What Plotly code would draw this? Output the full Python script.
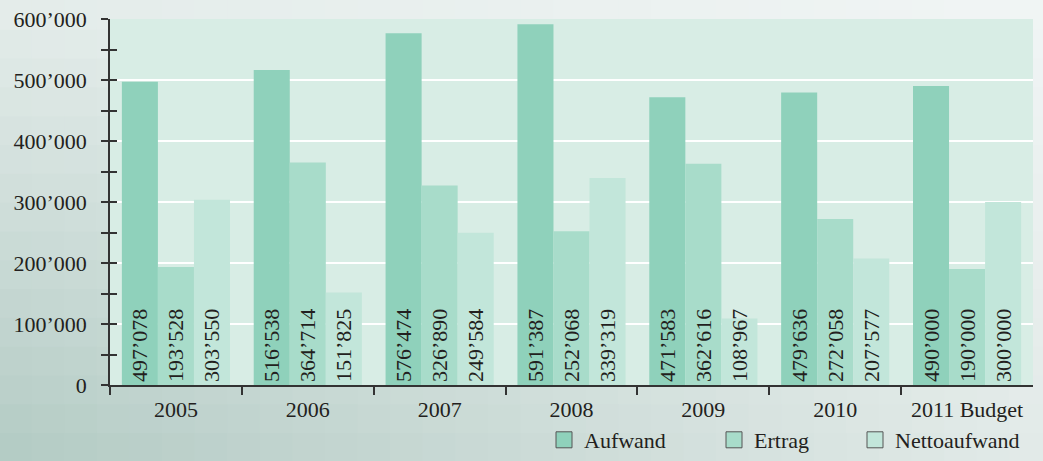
import plotly.graph_objects as go

categories = ["2005", "2006", "2007", "2008", "2009", "2010", "2011 Budget"]
aufwand = [497078, 516538, 576474, 591387, 471583, 479636, 490000]
ertrag = [193528, 364714, 326890, 252068, 362616, 272058, 190000]
netto = [303550, 151825, 249584, 339319, 108967, 207577, 300000]
series_names = ["Aufwand", "Ertrag", "Nettoaufwand"]
series_colors = ["#8fd1bb", "#a8dcca", "#c2e6da"]

W, H = 1043, 461
FONT = "Liberation Serif"
TXT = "#231f20"

fig = go.Figure()

for name, vals, col in zip(series_names, [aufwand, ertrag, netto], series_colors):
    fig.add_trace(go.Bar(
        x=categories, y=vals, name=name, marker=dict(color=col, line=dict(width=0)),
        texttemplate="%{y:,.0f}", textposition="inside", insidetextanchor="start",
        textangle=-90, textfont=dict(family=FONT, size=22, color=TXT),
        showlegend=False, hoverinfo="skip"))

# legend entries (separate legends for exact positioning)
leg_keys = ["legend", "legend2", "legend3"]
leg_x = [544, 714, 855]
for name, col, lk in zip(series_names, series_colors, leg_keys):
    fig.add_trace(go.Scatter(
        x=[None], y=[None], mode="markers", name=name, legend=lk,
        marker=dict(symbol="square", size=18, color=col, line=dict(color="#555555", width=1))))

# overlay axis for inward half of y ticks
fig.add_trace(go.Scatter(x=[None], y=[None], yaxis="y2", showlegend=False, hoverinfo="skip"))

# background gradient
def lerp(a, b, t):
    return tuple(a[i] + (b[i] - a[i]) * t for i in range(3))

tl, tr = (229, 237, 235), (241, 245, 245)
bl, br = (178, 202, 195), (226, 234, 232)
NX, NY = 32, 16
shapes = []
for i in range(NX):
    for j in range(NY):
        u = (i + 0.5) / NX
        v = (j + 0.5) / NY  # 0 bottom, 1 top
        c = lerp(lerp(bl, br, u), lerp(tl, tr, u), v)
        shapes.append(dict(type="rect", xref="paper", yref="paper", layer="below",
                           x0=i / NX - 0.001, x1=(i + 1) / NX + 0.002,
                           y0=j / NY - 0.002, y1=(j + 1) / NY + 0.003,
                           line=dict(width=0),
                           fillcolor="rgb(%d,%d,%d)" % tuple(int(round(k)) for k in c)))

xdom = [110 / W, 1033 / W]
ydom = [1 - 385 / H, 1 - 19 / H]
shapes.append(dict(type="rect", xref="paper", yref="paper", layer="below",
                   x0=xdom[0], x1=xdom[1], y0=ydom[0], y1=ydom[1],
                   line=dict(width=0), fillcolor="#d8ede5"))

legends = {}
for lk, lx in zip(leg_keys, leg_x):
    legends[lk] = dict(x=lx / W, xanchor="left", y=0.0, yanchor="bottom",
                       orientation="h", bgcolor="rgba(0,0,0,0)", borderwidth=0,
                       font=dict(family=FONT, size=22, color=TXT))

fig.update_layout(
    width=W, height=H,
    margin=dict(l=0, r=0, t=0, b=0),
    paper_bgcolor="#d6e2df", plot_bgcolor="rgba(0,0,0,0)",
    separators=".’",
    barmode="group", bargap=0.18, bargroupgap=0,
    font=dict(family=FONT, size=22, color=TXT),
    uniformtext=dict(minsize=22, mode="show"),
    shapes=shapes,
    xaxis=dict(domain=xdom, type="category", tickson="boundaries", ticks="outside",
               ticklen=8, tickwidth=1.5, tickcolor="#333", showline=True, linecolor="#333",
               linewidth=1.5, showgrid=False, automargin=False, ticklabelstandoff=4,
               tickfont=dict(family=FONT, size=22, color=TXT)),
    yaxis=dict(domain=ydom, range=[0, 600000], dtick=100000, tickformat=",.0f",
               ticks="outside", ticklen=7, tickwidth=1.5, tickcolor="#333",
               showline=True, linecolor="#333", linewidth=1.5,
               showgrid=True, gridcolor="#ffffff", gridwidth=1.5, zeroline=False,
               minor=dict(dtick=50000, ticks="outside", ticklen=7, tickwidth=1.5,
                          tickcolor="#333", showgrid=False),
               ticklabelstandoff=10, automargin=False,
               tickfont=dict(family=FONT, size=22, color=TXT)),
    yaxis2=dict(overlaying="y", side="left", range=[0, 600000], dtick=100000,
                ticks="inside", ticklen=7, tickwidth=1.5, tickcolor="#333",
                showticklabels=False, showgrid=False, showline=False, zeroline=False,
                minor=dict(dtick=50000, ticks="inside", ticklen=7, tickwidth=1.5,
                           tickcolor="#333", showgrid=False),
                automargin=False),
    **legends,
)

fig.write_html("out.html", config={"displayModeBar": False},
               post_script="document.body.style.margin='0';document.body.style.overflow='hidden';")
